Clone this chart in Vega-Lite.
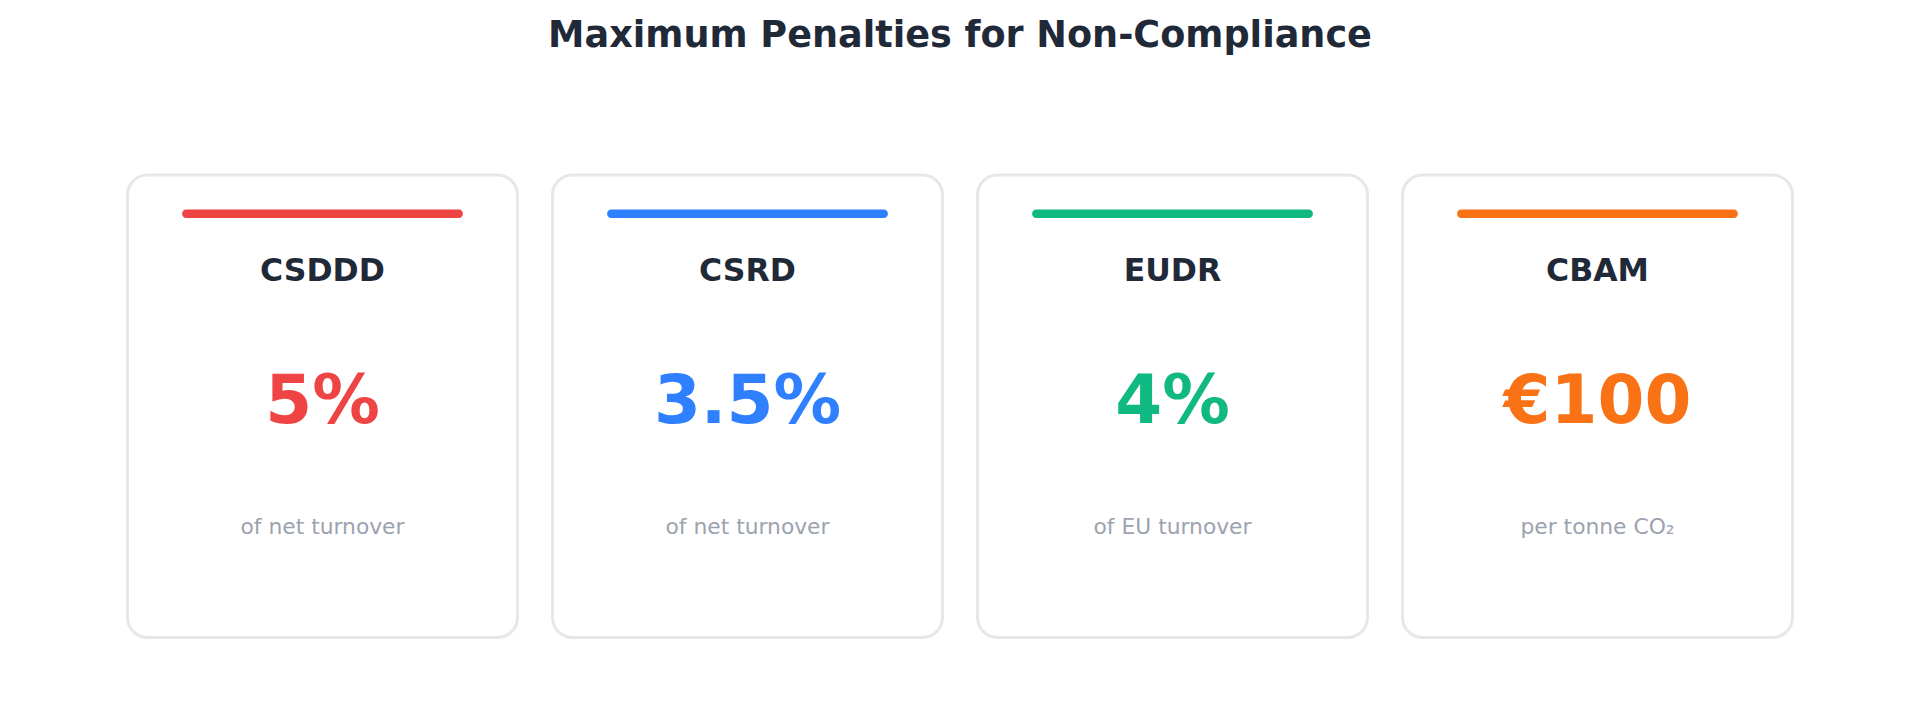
{
  "$schema": "https://vega.github.io/schema/vega-lite/v6.json",
  "width": 1920,
  "height": 708,
  "autosize": {"type": "none"},
  "padding": 0,
  "background": "white",
  "config": {"view": {"stroke": null}, "font": "DejaVu Sans"},
  "title": {
    "text": "Maximum Penalties for Non-Compliance",
    "font": "DejaVu Sans",
    "fontSize": 36.6,
    "fontWeight": "bold",
    "color": "#1f2937",
    "anchor": "middle",
    "frame": "group",
    "offset": -55
  },
  "data": {
    "values": [
      {"regulation": "CSDDD", "penalty": "5%", "basis": "of net turnover"},
      {"regulation": "CSRD", "penalty": "3.5%", "basis": "of net turnover"},
      {"regulation": "EUDR", "penalty": "4%", "basis": "of EU turnover"},
      {"regulation": "CBAM", "penalty": "€100", "basis": "per tonne CO₂"}
    ]
  },
  "encoding": {
    "x": {
      "field": "regulation",
      "type": "nominal",
      "sort": null,
      "scale": {"paddingInner": 0.0824, "paddingOuter": 0.3},
      "axis": null
    }
  },
  "layer": [
    {
      "mark": {
        "type": "bar",
        "width": {"band": 1},
        "fill": "white",
        "stroke": "#e5e7eb",
        "strokeWidth": 3,
        "cornerRadius": 20
      },
      "encoding": {
        "y": {
          "datum": 175,
          "type": "quantitative",
          "scale": {"domain": [0, 708], "reverse": true, "nice": false, "zero": false},
          "axis": null
        },
        "y2": {"datum": 637.5}
      }
    },
    {
      "mark": {"type": "bar", "width": {"band": 0.72}, "cornerRadius": 4},
      "encoding": {
        "y": {"datum": 209.5, "type": "quantitative"},
        "y2": {"datum": 218},
        "color": {
          "field": "regulation",
          "type": "nominal",
          "scale": {
            "domain": ["CSDDD", "CSRD", "EUDR", "CBAM"],
            "range": ["#ef4444", "#2f80ff", "#10b981", "#f97316"]
          },
          "legend": null
        }
      }
    },
    {
      "mark": {
        "type": "text",
        "fontSize": 31.5,
        "fontWeight": "bold",
        "color": "#1f2937",
        "baseline": "alphabetic"
      },
      "encoding": {
        "y": {"datum": 281, "type": "quantitative"},
        "text": {"field": "regulation"}
      }
    },
    {
      "mark": {
        "type": "text",
        "fontSize": 67.5,
        "fontWeight": "bold",
        "baseline": "alphabetic"
      },
      "encoding": {
        "y": {"datum": 423, "type": "quantitative"},
        "text": {"field": "penalty"},
        "color": {"field": "regulation", "type": "nominal", "legend": null}
      }
    },
    {
      "mark": {
        "type": "text",
        "fontSize": 21.8,
        "color": "#9ca3af",
        "baseline": "alphabetic"
      },
      "encoding": {
        "y": {"datum": 534, "type": "quantitative"},
        "text": {"field": "basis"}
      }
    }
  ]
}
